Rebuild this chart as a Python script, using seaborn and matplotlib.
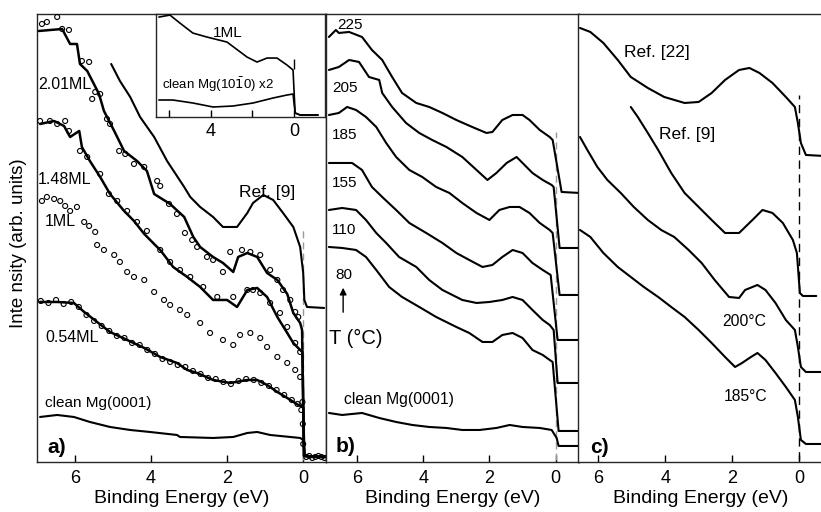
import matplotlib
matplotlib.use("Agg")
import matplotlib.pyplot as plt
import seaborn as sns

# ---------------- panel a (coverage series, binding energy in eV) ----------------
ref9_a_E = [5.05, 4.82, 4.55, 4.29, 3.92, 3.58, 3.13, 2.97, 2.71, 2.37, 2.11, 1.74, 1.47, 1.32,
            1.05, 0.79, 0.53, 0.26, 0.08, 0.0, -0.03, -0.1, -0.55]
ref9_a_I = [398, 381, 365, 345, 325, 301, 275, 265, 255, 245, 235, 235, 249, 259,
            267, 262, 249, 235, 215, 189, 162, 155, 154]

ml201_E = [6.95, 6.34, 6.13, 5.95, 5.87, 5.68, 5.37, 5.24, 4.97, 4.71, 4.37, 4.11, 3.92, 3.50,
           3.13, 2.89, 2.71, 2.37, 2.11, 1.84, 1.71, 1.47, 1.21, 0.95, 0.68, 0.42, 0.26, 0.08,
           0.03, -0.02, -0.6]
ml201_I = [431, 433, 418, 418, 398, 391, 368, 351, 331, 311, 301, 291, 268, 258,
           245, 225, 215, 205, 199, 190, 205, 209, 205, 189, 182, 168, 149, 139,
           132, 6, 5]
ml201_dots_E = [6.87, 6.74, 6.47, 6.34, 6.16, 5.82, 5.63, 5.55, 5.47, 5.34, 5.16, 5.08, 4.84, 4.68,
                4.45, 4.18, 3.84, 3.76, 3.53, 3.32, 3.11, 2.92, 2.79, 2.53, 2.37, 2.11, 1.92, 1.61,
                1.39, 1.13, 0.87, 0.68, 0.53, 0.34, 0.21, 0.13]
ml201_dots_I = [438, 440, 445, 433, 432, 401, 400, 363, 370, 368, 343, 338, 311, 308,
                298, 295, 281, 276, 258, 248, 229, 222, 215, 205, 202, 190, 210, 212,
                210, 207, 192, 182, 172, 162, 150, 145]

ml148_E = [6.92, 6.55, 6.29, 6.13, 5.89, 5.82, 5.61, 5.34, 5.08, 4.71, 4.45, 4.18, 3.92, 3.76,
           3.42, 3.05, 2.71, 2.37, 2.00, 1.74, 1.47, 1.21, 0.95, 0.68, 0.42, 0.26, 0.08, 0.02,
           -0.02, -0.6]
ml148_I = [338, 341, 336, 325, 331, 315, 301, 285, 268, 251, 241, 228, 218, 212,
           195, 185, 175, 162, 162, 155, 172, 174, 165, 145, 129, 119, 112, 110,
           6, 5]
ml148_dots_E = [6.92, 6.66, 6.47, 6.26, 6.16, 5.87, 5.68, 5.34, 5.11, 4.89, 4.63, 4.37, 4.11, 3.76,
                3.50, 3.24, 2.97, 2.63, 2.26, 1.84, 1.47, 1.32, 1.13, 0.87, 0.61, 0.42, 0.21, 0.08]
ml148_dots_I = [341, 341, 338, 341, 331, 311, 305, 288, 268, 261, 251, 240, 231, 212,
                200, 192, 185, 175, 165, 165, 172, 172, 169, 159, 149, 135, 119, 110]

ml1_dots_E = [6.87, 6.74, 6.55, 6.39, 6.26, 6.13, 5.95, 5.76, 5.63, 5.47, 5.42, 5.24, 4.97, 4.82,
              4.63, 4.45, 4.18, 3.92, 3.66, 3.50, 3.24, 3.05, 2.71, 2.45, 2.11, 1.84, 1.66, 1.39,
              1.13, 0.95, 0.68, 0.42, 0.21, 0.08, 0.02, 0.01, 0.0]
ml1_dots_I = [261, 265, 263, 261, 256, 251, 255, 240, 236, 230, 217, 212, 207, 200,
              190, 185, 182, 170, 162, 157, 152, 147, 139, 129, 122, 117, 127, 129,
              124, 115, 105, 99, 92, 85, 60, 38, 18]

ml054_E = [6.92, 6.47, 6.03, 5.76, 5.42, 5.08, 4.63, 4.18, 3.76, 3.32, 3.05, 2.79, 2.37, 1.92,
           1.47, 1.21, 0.95, 0.68, 0.42, 0.13, 0.0, -0.03, -0.6]
ml054_I = [160, 160, 159, 150, 140, 130, 122, 114, 105, 99, 92, 89, 82, 79,
           82, 82, 77, 70, 64, 57, 55, 6, 5]
ml054_dots_E = [6.90, 6.70, 6.50, 6.30, 6.10, 5.90, 5.70, 5.50, 5.30, 5.10, 4.90, 4.70, 4.50, 4.30,
                4.10, 3.90, 3.70, 3.50, 3.30, 3.10, 2.90, 2.70, 2.50, 2.30, 2.10, 1.90, 1.70, 1.50,
                1.30, 1.10, 0.90, 0.70, 0.50, 0.30, 0.15, 0.05,
                -0.08, -0.16, -0.24, -0.32, -0.40, -0.48, -0.56]
ml054_dots_I = [161, 159, 162, 158, 160, 155, 147, 141, 136, 131, 126, 124, 119, 117,
                112, 108, 103, 100, 97, 95, 91, 88, 84, 83, 80, 78, 81, 83,
                82, 79, 76, 72, 67, 62, 58, 52,
                5, 6, 4, 5, 6, 5, 4]

clean_a_E = [6.92, 6.47, 6.03, 5.61, 5.08, 4.55, 4.03, 3.32, 3.24, 2.37, 1.84, 1.47, 1.21, 0.87,
             0.34, 0.08, 0.0, -0.05, -0.6]
clean_a_I = [45, 47, 45, 40, 35, 32, 30, 27, 25, 24, 25, 29, 30, 27,
             25, 24, 22, 6, 5]

# inset (1ML vs clean Mg(10-10))
inset_1ml_E = [6.49, 5.96, 5.48, 4.86, 4.18, 3.22, 2.26, 1.78, 1.30, 0.82, 0.34, 0.05, -0.05, -0.29, -1.15]
inset_1ml_I = [100, 102, 94, 84, 80, 75, 60, 55, 59, 59, 52, 47, 4, 2, 2]
inset_clean_E = [6.49, 5.82, 4.86, 3.89, 2.93, 1.97, 1.01, 0.34, 0.05, -0.05, -0.29, -1.15]
inset_clean_I = [17, 17, 14, 10, 11, 14, 19, 22, 23, 4, 2, 2]

# ---------------- panel b (annealing temperature series) ----------------
b225_E = [6.85, 6.64, 6.55, 6.24, 5.85, 5.55, 5.24, 4.94, 4.64, 4.21, 3.82, 3.42, 3.00, 2.52,
          2.09, 1.91, 1.61, 1.30, 1.00, 0.79, 0.48, 0.18, 0.09, -0.18, -0.73]
b225_I = [425, 432, 429, 430, 425, 412, 402, 385, 369, 359, 355, 349, 342, 335,
          329, 330, 342, 347, 347, 342, 332, 325, 322, 270, 269]
b205_E = [6.85, 6.55, 6.24, 5.94, 5.64, 5.33, 5.24, 4.94, 4.52, 4.12, 3.73, 3.30, 2.82, 2.39,
          2.06, 1.79, 1.48, 1.18, 1.00, 0.70, 0.39, 0.12, 0.06, -0.12, -0.73]
b205_I = [392, 395, 402, 400, 385, 382, 369, 355, 339, 329, 322, 315, 305, 292,
          282, 289, 299, 305, 299, 289, 282, 277, 275, 214, 214]
b185_E = [6.85, 6.55, 6.30, 6.03, 5.73, 5.42, 5.12, 4.82, 4.42, 4.03, 3.61, 3.21, 2.82, 2.39,
          2.00, 1.70, 1.39, 1.09, 0.79, 0.48, 0.18, 0.09, -0.12, -0.73]
b185_I = [347, 349, 355, 352, 345, 335, 319, 305, 292, 285, 275, 269, 259, 249,
          242, 252, 255, 255, 249, 239, 232, 229, 167, 167]
b155_E = [6.85, 6.45, 6.15, 5.85, 5.55, 5.24, 4.82, 4.42, 3.91, 3.42, 3.00, 2.61, 2.21, 1.91,
          1.61, 1.30, 1.00, 0.70, 0.39, 0.15, -0.06, -0.73]
b155_I = [299, 299, 299, 292, 275, 265, 252, 239, 229, 219, 209, 202, 195, 197,
          205, 212, 209, 199, 192, 187, 122, 122]
b110_E = [6.85, 6.45, 6.03, 5.73, 5.42, 5.12, 4.73, 4.21, 3.82, 3.42, 2.82, 2.39, 2.00, 1.61,
          1.30, 1.00, 0.70, 0.39, 0.18, 0.06, -0.06, -0.73]
b110_I = [252, 254, 252, 242, 229, 219, 205, 195, 182, 172, 162, 159, 160, 162,
          165, 162, 152, 142, 137, 132, 79, 79]
b80_E = [6.85, 6.45, 6.03, 5.73, 5.42, 5.03, 4.64, 4.12, 3.61, 3.00, 2.61, 2.21, 1.91, 1.61,
         1.30, 1.00, 0.70, 0.39, 0.18, 0.09, -0.09, -0.73]
b80_I = [215, 214, 212, 205, 192, 175, 165, 155, 145, 135, 129, 120, 120, 127,
         129, 124, 112, 107, 102, 100, 31, 31]
clean_b_E = [6.85, 6.45, 5.85, 5.33, 4.82, 4.33, 3.82, 3.30, 2.82, 2.30, 1.79, 1.39, 1.00, 0.48,
             0.12, -0.03, -0.09, -0.73]
clean_b_I = [49, 47, 49, 44, 40, 37, 35, 34, 32, 32, 34, 37, 35, 34,
             32, 24, 16, 16]

# ---------------- panel c (comparison with references) ----------------
ref22_E = [6.55, 6.24, 5.85, 5.42, 5.03, 4.52, 4.03, 3.42, 3.00, 2.61, 2.21, 1.79, 1.48, 1.18,
           0.79, 0.39, 0.12, 0.03, -0.06, -0.21, -0.76]
ref22_I = [434, 430, 419, 402, 385, 374, 365, 359, 360, 369, 382, 392, 394, 389,
           379, 365, 355, 339, 319, 307, 306]
ref9_c_E = [5.03, 4.82, 4.52, 4.21, 3.82, 3.42, 3.00, 2.61, 2.21, 1.79, 1.39, 1.09, 0.79, 0.48,
            0.18, 0.06, -0.03, -0.12, -0.52]
ref9_c_I = [355, 345, 329, 312, 289, 269, 255, 242, 229, 229, 242, 252, 249, 239,
            222, 209, 169, 166, 166]
c200_E = [6.55, 6.33, 6.03, 5.73, 5.33, 4.94, 4.52, 4.12, 3.73, 3.30, 2.91, 2.52, 2.09, 1.79,
          1.61, 1.24, 1.00, 0.70, 0.39, 0.12, 0.03, -0.06, -0.21, -0.76]
c200_I = [325, 312, 295, 282, 269, 255, 242, 232, 225, 212, 199, 182, 165, 164,
          172, 177, 172, 159, 142, 132, 115, 95, 90, 90]
c185_E = [6.55, 6.24, 5.85, 5.42, 5.03, 4.64, 4.21, 3.82, 3.42, 3.00, 2.61, 2.21, 1.91, 1.70,
          1.48, 1.24, 1.00, 0.70, 0.39, 0.12, 0.03, -0.06, -0.21, -0.76]
c185_I = [232, 225, 209, 195, 185, 175, 165, 155, 145, 132, 119, 105, 95, 99,
          104, 109, 102, 89, 75, 62, 45, 22, 18, 18]

energy_ticks = [6, 4, 2, 0]
temps_b = ["225", "205", "185", "155", "110", "80"]

sns.set_theme(style="white")
plt.rcParams['font.family'] = ['Liberation Sans', 'DejaVu Sans']
plt.rcParams['text.color'] = 'black'
plt.rcParams['axes.labelcolor'] = 'black'
plt.rcParams['xtick.color'] = 'black'

fig = plt.figure(figsize=(8.21, 5.12), dpi=100)
ax_a = fig.add_axes([0.0451, 0.0977, 0.352, 0.875])
ax_b = fig.add_axes([0.397, 0.0977, 0.308, 0.875])
ax_c = fig.add_axes([0.704, 0.0977, 0.300, 0.875])
ax_in = fig.add_axes([0.190, 0.7715, 0.206, 0.201])


def trace(ax, E, I, lw=1.5):
    sns.lineplot(x=E, y=I, ax=ax, sort=False, estimator=None, color="black", lw=lw, zorder=3)


def dots(ax, E, I):
    sns.scatterplot(x=E, y=I, ax=ax, marker="o", s=13, facecolor="none",
                    edgecolor="black", linewidth=0.8, zorder=4)


# panel a
trace(ax_a, ref9_a_E, ref9_a_I)
trace(ax_a, ml201_E, ml201_I, lw=1.8)
dots(ax_a, ml201_dots_E, ml201_dots_I)
trace(ax_a, ml148_E, ml148_I, lw=1.8)
dots(ax_a, ml148_dots_E, ml148_dots_I)
dots(ax_a, ml1_dots_E, ml1_dots_I)
trace(ax_a, ml054_E, ml054_I, lw=1.8)
dots(ax_a, ml054_dots_E, ml054_dots_I)
trace(ax_a, clean_a_E, clean_a_I)
ax_a.vlines(0, 2, 232, colors="0.6", linestyles=(0, (5, 3)), lw=1, zorder=1)

# inset
trace(ax_in, inset_1ml_E, inset_1ml_I, lw=1.2)
trace(ax_in, inset_clean_E, inset_clean_I, lw=1.2)
ax_in.vlines(0, 48, 58, colors="black", lw=1)

# panel b
for E, I in [(b225_E, b225_I), (b205_E, b205_I), (b185_E, b185_I), (b155_E, b155_I),
             (b110_E, b110_I), (b80_E, b80_I), (clean_b_E, clean_b_I)]:
    trace(ax_b, E, I)
ax_b.vlines(0, 2, 330, colors="0.6", linestyles=(0, (5, 3)), lw=1, zorder=1)

# panel c
for E, I in [(ref22_E, ref22_I), (ref9_c_E, ref9_c_I), (c200_E, c200_I), (c185_E, c185_I)]:
    trace(ax_c, E, I)
ax_c.vlines(0, 2, 367, colors="black", linestyles=(0, (6, 4)), lw=1, zorder=1)

for ax, lim in [(ax_a, (7.0, -0.6)), (ax_b, (6.94, -0.70)), (ax_c, (6.61, -0.76))]:
    ax.set_xlim(*lim)
    ax.set_ylim(0, 448)
    ax.set_yticks([])
    ax.set_xticks(energy_ticks)
    ax.tick_params(axis="x", direction="in", length=5, width=1, labelsize=13, pad=6,
                   bottom=True, colors="black")
    ax.set_xlabel("Binding Energy (eV)", fontsize=14, labelpad=2)
    ax.set_ylabel("")
    for s in ax.spines.values():
        s.set_color("0.15")
        s.set_linewidth(1)
ax_c.spines["right"].set_visible(False)

ax_in.set_xlim(6.63, -1.49)
ax_in.set_ylim(0, 103)
ax_in.set_yticks([])
ax_in.set_xticks(energy_ticks)
ax_in.set_xticklabels(["", "4", "", "0"])
ax_in.tick_params(axis="x", direction="in", length=5, width=1, labelsize=13, pad=4, bottom=True)
ax_in.set_xlabel("")
ax_in.set_ylabel("")
for s in ax_in.spines.values():
    s.set_color("0.15")
    s.set_linewidth(1)

# labels panel a
ax_a.text(6.97, 377, "2.01ML", fontsize=11.5, va="center", ha="left")
ax_a.text(6.97, 282, "1.48ML", fontsize=11.5, va="center", ha="left")
ax_a.text(6.79, 240, "1ML", fontsize=11.5, va="center", ha="left")
ax_a.text(6.79, 124, "0.54ML", fontsize=11.5, va="center", ha="left")
ax_a.text(6.79, 59, "clean Mg(0001)", fontsize=11, va="center", ha="left")
ax_a.text(0.95, 269, "Ref. [9]", fontsize=12.5, va="center", ha="center")
ax_a.text(6.74, 14, "a)", fontsize=15, fontweight="bold", va="center", ha="left")
ax_in.text(3.17, 84, "1ML", fontsize=11, va="center", ha="center")
ax_in.text(6.35, 32, r"clean Mg(10$\bar{1}$0) x2", fontsize=9.5, va="center", ha="left")

# labels panel b
ax_b.text(6.61, 437, temps_b[0], fontsize=11, va="center", ha="left")
for lbl, h in zip(temps_b[1:5], [374, 327, 279, 232]):
    ax_b.text(6.76, h, lbl, fontsize=11, va="center", ha="left")
ax_b.text(6.64, 187, temps_b[5], fontsize=11, va="center", ha="left")
ax_b.annotate("", xy=(6.42, 177), xytext=(6.42, 147),
              arrowprops=dict(arrowstyle="-|>", color="black", lw=1, mutation_scale=10))
ax_b.text(6.85, 124, "T (°C)", fontsize=14.5, va="center", ha="left")
ax_b.text(6.39, 62, "clean Mg(0001)", fontsize=11.3, va="center", ha="left")
ax_b.text(6.64, 15, "b)", fontsize=15, fontweight="bold", va="center", ha="left")

# labels panel c
ax_c.text(5.24, 409, "Ref. [22]", fontsize=12.5, va="center", ha="left")
ax_c.text(4.18, 327, "Ref. [9]", fontsize=12.5, va="center", ha="left")
ax_c.text(2.30, 140, "200°C", fontsize=11.3, va="center", ha="left")
ax_c.text(2.24, 65, "185°C", fontsize=11.3, va="center", ha="left")
ax_c.text(6.24, 14, "c)", fontsize=15, fontweight="bold", va="center", ha="left")

fig.text(0.022, 0.525, "Inte nsity (arb. units)", rotation=90, fontsize=13.5,
         va="center", ha="center")

fig.savefig("out.png", dpi=100)
